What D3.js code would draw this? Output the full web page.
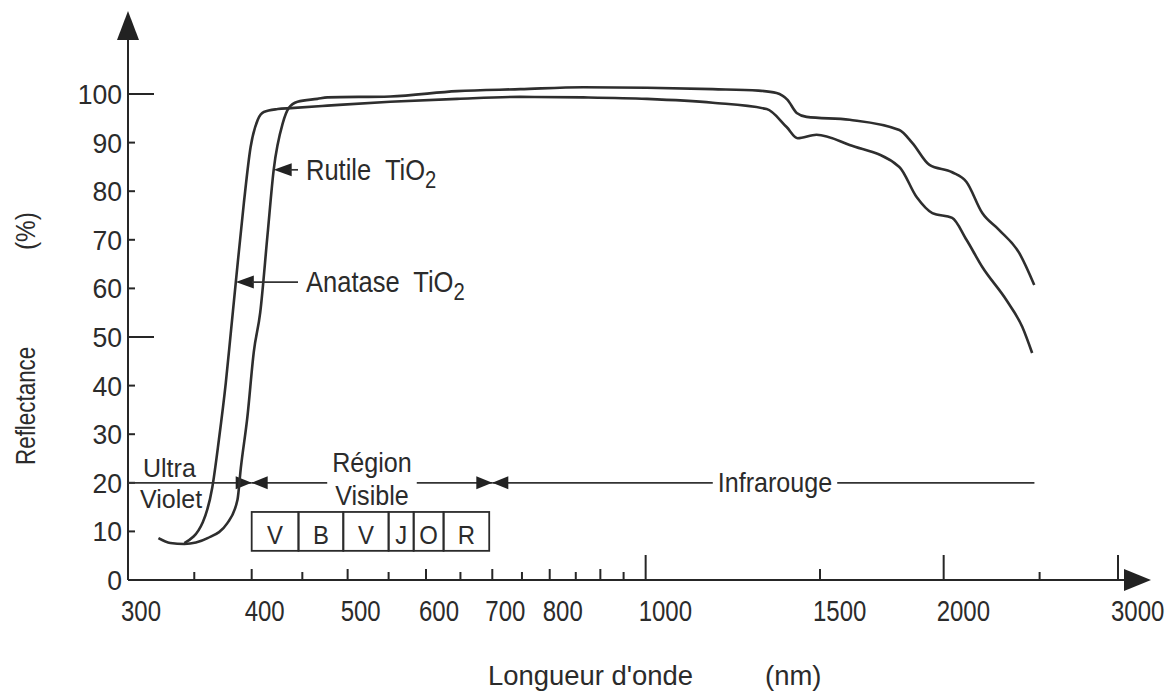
<!DOCTYPE html>
<meta charset="utf-8">
<style>
body { margin: 0; background: #fff; }
svg { display: block; font-family: "Liberation Sans", Arial, sans-serif; }
text { fill: #2b2b2b; white-space: pre; }
.curve { fill: none; stroke: #2e2e2e; stroke-width: 2.6; stroke-linejoin: round; }
.ax { stroke: #262626; stroke-width: 2; fill: none; }
.thin { stroke: #333; stroke-width: 1.7; fill: none; }
.head { fill: #222; stroke: none; }
</style>
<body>
<script src="https://cdn.jsdelivr.net/npm/d3@7"></script>
<script>
const width = 1166, height = 693;

// [longueur d'onde (nm), reflectance (%)]
const rutile = [[322, 8.6], [331, 7.6], [342, 7.4], [361, 8.6], [378, 11.7], [387, 16.5],
  [390, 23], [396, 33.5], [402, 47], [408, 55], [415, 71], [421, 84.4], [430, 94], [436, 97.1],
  [445, 98.4], [466, 99.0], [477, 99.3], [552, 99.5], [645, 100.6], [747, 101.0], [865, 101.4],
  [1003, 101.3], [1169, 101.0], [1300, 100.7], [1356, 100.2], [1391, 98.8], [1421, 96.1],
  [1454, 95.3], [1607, 94.7], [1804, 92.6], [1860, 89.9], [1935, 85.4], [2040, 83.9],
  [2109, 81.9], [2188, 75.5], [2276, 72.0], [2384, 67.3], [2469, 60.7]];
const anatase = [[342, 7.6], [357, 11.9], [365, 19.1], [370.6, 28.8], [376.6, 40.5], [381, 50.8],
  [385.5, 61.3], [392.8, 77.6], [399, 89.1], [405.7, 94.7], [411.4, 96.3], [425, 96.9], [438, 97.1],
  [477, 97.6], [552, 98.4], [645, 99.0], [747, 99.4], [865, 99.3], [1003, 99.0], [1169, 98.2],
  [1325, 96.9], [1388, 93.2], [1424, 90.9], [1488, 91.6], [1607, 89.5], [1804, 85.0], [1878, 78.8],
  [1948, 75.5], [2040, 74.5], [2109, 70.0], [2188, 64.4], [2314, 57.6], [2401, 52.1], [2457, 46.7]];

const xLabels = [300, 400, 500, 600, 700, 800, 1000, 1500, 2000, 3000];
const xTicksBig = [1000, 2000, 3000];
const xTicksMid = [400, 500, 600, 700, 800, 900, 1500];
const xTicksSmall = [350, 450, 550, 650, 750, 850, 950, 2500];
const yTicks = [0, 10, 20, 30, 40, 50, 60, 70, 80, 90, 100];
const yTicksLong = [50, 100];

const bandNames = ["V", "B", "V", "J", "O", "R"];
const bandEdges = [400, 446, 495, 550, 583, 625, 695];
const regionLevel = 20;
const regionBounds = [300, 400, 700, 2470];

const x = d3.scaleLog().domain([300, 3000]).range([128, 1118]);
const y = d3.scaleLinear().domain([0, 100]).range([580, 94]);

const svg = d3.select("body").append("svg")
    .attr("width", width)
    .attr("height", height);

// text squeezed a bit horizontally, like the scanned original
function label(g, str, px, py, size, sx, anchor, rot) {
  return g.append("text")
      .attr("transform", `translate(${px},${py})` + (rot ? ` rotate(${rot})` : "") + ` scale(${sx},1)`)
      .attr("font-size", size)
      .attr("text-anchor", anchor || "start")
      .text(str);
}

function tri(g, tipX, tipY, dir, len, half) {
  g.append("path").attr("class", "head")
      .attr("d", `M${tipX},${tipY}L${tipX - dir * len},${tipY - half}L${tipX - dir * len},${tipY + half}Z`);
}

// axes
const ax = svg.append("g");
ax.append("line").attr("class", "ax")
    .attr("x1", x(300)).attr("x2", 1126).attr("y1", y(0)).attr("y2", y(0));
ax.append("line").attr("class", "ax")
    .attr("x1", x(300)).attr("x2", x(300)).attr("y1", y(0)).attr("y2", 38);
ax.append("path").attr("class", "head")
    .attr("d", `M${x(300)},11L${x(300) - 11},40L${x(300) + 11},40Z`);
ax.append("path").attr("class", "head")
    .attr("d", `M1151,${y(0)}L1124,${y(0) - 11}L1124,${y(0) + 11}Z`);

[[xTicksBig, 25], [xTicksMid, 11], [xTicksSmall, 8]].forEach(([ticks, len]) => {
  ax.selectAll(null).data(ticks).join("line").attr("class", "ax")
      .attr("x1", d => x(d)).attr("x2", d => x(d))
      .attr("y1", y(0)).attr("y2", y(0) - len);
});
xLabels.forEach(d => label(ax, String(d), x(d) - 7, 621, 30, 0.8));

ax.selectAll(null).data(yTicks.filter(d => d > 0)).join("line").attr("class", "ax")
    .attr("x1", x(300)).attr("x2", d => x(300) + (yTicksLong.includes(d) ? 26 : 7))
    .attr("y1", d => y(d)).attr("y2", d => y(d));
yTicks.forEach(d => label(ax, String(d), 122, y(d) + 10, 28, 0.95, "end"));

label(svg, "Reflectance", 35, 465, 27, 0.83, "start", -90);
label(svg, "(%)", 35, 250, 27, 0.9, "start", -90);
label(svg, "Longueur d'onde", 488, 685, 28, 0.98);
label(svg, "(nm)", 765, 685, 28, 0.98);

// spectral regions on the 20 % line
const reg = svg.append("g");
const ly = y(regionLevel);
const tRegion = [label(reg, "Région", x(400) + (x(700) - x(400)) / 2, 472, 27, 0.93, "middle"),
                 label(reg, "Visible", x(400) + (x(700) - x(400)) / 2, 505, 27, 0.93, "middle")];
const cRegion = x(400) + (x(700) - x(400)) / 2;
const wRegion = tRegion[0].node().getComputedTextLength() * 0.93 / 2 + 5;
const cIR = 775;
const tIR = label(reg, "Infrarouge", cIR, 492, 27, 0.93, "middle");
const wIR = tIR.node().getComputedTextLength() * 0.93 / 2 + 5;
label(reg, "Ultra", 143, 477, 25, 1.0);
label(reg, "Violet", 140, 508, 25, 1.0);

const segs = [[x(regionBounds[0]), x(regionBounds[1])], [x(regionBounds[1]), cRegion - wRegion],
  [cRegion + wRegion, x(regionBounds[2])], [x(regionBounds[2]), cIR - wIR], [cIR + wIR, x(regionBounds[3])]];
reg.selectAll(null).data(segs).join("line").attr("class", "thin")
    .attr("x1", d => d[0]).attr("x2", d => d[1]).attr("y1", ly).attr("y2", ly);
[regionBounds[1], regionBounds[2]].forEach(b => {
  tri(reg, x(b), ly, 1, 16, 6.5);
  tri(reg, x(b), ly, -1, 16, 6.5);
});

// colour bands box
const band = svg.append("g");
band.selectAll(null).data(d3.pairs(bandEdges)).join("rect")
    .attr("x", d => x(d[0])).attr("width", d => x(d[1]) - x(d[0]))
    .attr("y", y(14)).attr("height", y(6) - y(14))
    .attr("fill", "none").attr("stroke", "#2b2b2b").attr("stroke-width", 1.8);
d3.pairs(bandEdges).forEach((d, i) =>
  label(band, bandNames[i], (x(d[0]) + x(d[1])) / 2, 544, 26, 0.92, "middle"));

// curves
const line = d3.line().x(d => x(d[0])).y(d => y(d[1])).curve(d3.curveMonotoneX);
svg.append("path").attr("class", "curve").attr("d", line(rutile));
svg.append("path").attr("class", "curve").attr("d", line(anatase));

// curve labels
const lab = svg.append("g");
[[rutile[11], "Rutile  TiO"], [anatase[6], "Anatase  TiO"]].forEach(([p, name]) => {
  const tx = x(p[0]), ty = y(p[1]);
  tri(lab, tx, ty, -1, 18, 6.5);
  lab.append("line").attr("class", "thin")
      .attr("x1", tx + 16).attr("x2", 298).attr("y1", ty).attr("y2", ty);
  const t = label(lab, name, 306, ty + 10, 29, 0.88);
  t.append("tspan").attr("font-size", 23).attr("dy", 8).text("2");
});
</script>
